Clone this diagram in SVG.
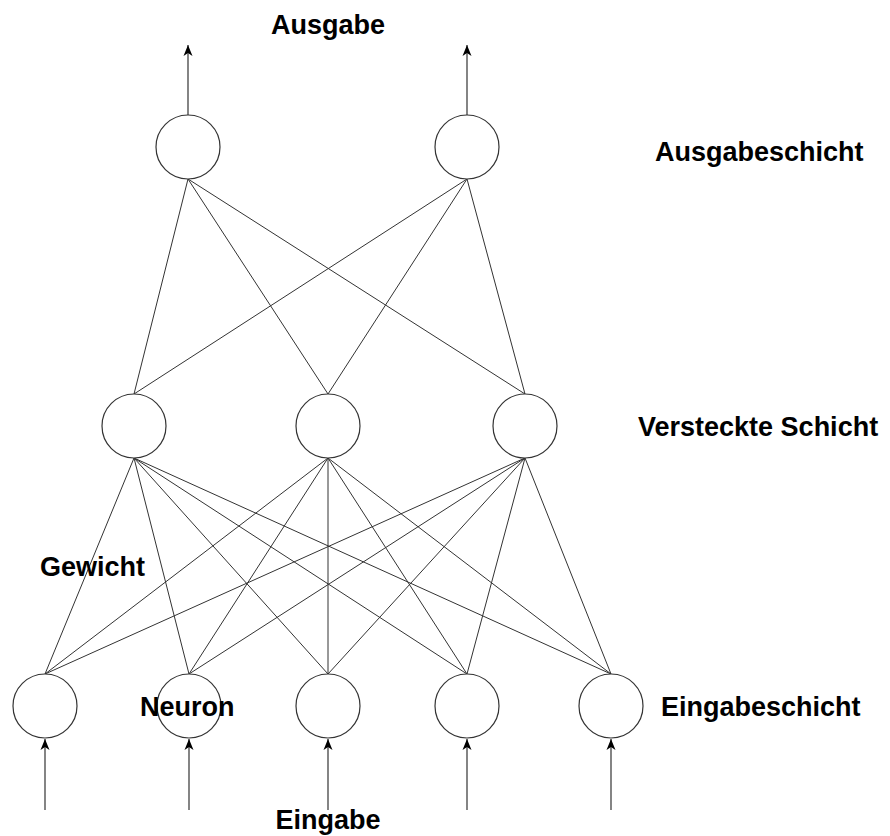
<svg xmlns="http://www.w3.org/2000/svg" width="890" height="836" viewBox="0 0 890 836">
<defs>
<marker id="arr" markerWidth="12" markerHeight="10" refX="11" refY="5" orient="auto" markerUnits="userSpaceOnUse">
<path d="M0,0.5 L11,5 L0,9.5 L3,5 Z" fill="#000"/>
</marker>
<style>
.n{fill:#fff;stroke:#333;stroke-width:1.2}
.e{stroke:#333;stroke-width:1;fill:none}
.a{stroke:#333;stroke-width:1.2;fill:none;marker-end:url(#arr)}
.t{font-family:"Liberation Sans",Arial,sans-serif;font-weight:bold;font-size:27px;fill:#000}
</style>
</defs>
<rect width="890" height="836" fill="#fff"/>
<g id="connectors">
<line class="e" x1="188" y1="179" x2="134" y2="394"/>
<line class="e" x1="188" y1="179" x2="328" y2="394"/>
<line class="e" x1="188" y1="179" x2="525" y2="394"/>
<line class="e" x1="467" y1="179" x2="134" y2="394"/>
<line class="e" x1="467" y1="179" x2="328" y2="394"/>
<line class="e" x1="467" y1="179" x2="525" y2="394"/>
<line class="e" x1="134" y1="458" x2="45" y2="674"/>
<line class="e" x1="134" y1="458" x2="189" y2="674"/>
<line class="e" x1="134" y1="458" x2="328" y2="674"/>
<line class="e" x1="134" y1="458" x2="467" y2="674"/>
<line class="e" x1="134" y1="458" x2="611" y2="674"/>
<line class="e" x1="328" y1="458" x2="45" y2="674"/>
<line class="e" x1="328" y1="458" x2="189" y2="674"/>
<line class="e" x1="328" y1="458" x2="328" y2="674"/>
<line class="e" x1="328" y1="458" x2="467" y2="674"/>
<line class="e" x1="328" y1="458" x2="611" y2="674"/>
<line class="e" x1="525" y1="458" x2="45" y2="674"/>
<line class="e" x1="525" y1="458" x2="189" y2="674"/>
<line class="e" x1="525" y1="458" x2="328" y2="674"/>
<line class="e" x1="525" y1="458" x2="467" y2="674"/>
<line class="e" x1="525" y1="458" x2="611" y2="674"/>
<line class="a" x1="188" y1="115" x2="188" y2="45"/>
<line class="a" x1="467" y1="115" x2="467" y2="45"/>
<line class="a" x1="45" y1="810" x2="45" y2="739"/>
<line class="a" x1="189" y1="810" x2="189" y2="739"/>
<line class="a" x1="328" y1="810" x2="328" y2="739"/>
<line class="a" x1="467" y1="810" x2="467" y2="739"/>
<line class="a" x1="611" y1="810" x2="611" y2="739"/>
</g>
<g id="out1"><circle class="n" cx="188" cy="147" r="32"/></g>
<g id="out2"><circle class="n" cx="467" cy="147" r="32"/></g>
<g id="hid1"><circle class="n" cx="134" cy="426" r="32"/></g>
<g id="hid2"><circle class="n" cx="328" cy="426" r="32"/></g>
<g id="hid3"><circle class="n" cx="525" cy="426" r="32"/></g>
<g id="in1"><circle class="n" cx="45" cy="706" r="32"/></g>
<g id="in2"><circle class="n" cx="189" cy="706" r="32"/></g>
<g id="in3"><circle class="n" cx="328" cy="706" r="32"/></g>
<g id="in4"><circle class="n" cx="467" cy="706" r="32"/></g>
<g id="in5"><circle class="n" cx="611" cy="706" r="32"/></g>
<g id="labels">
<text class="t" x="328" y="34" text-anchor="middle">Ausgabe</text>
<text class="t" x="655" y="161">Ausgabeschicht</text>
<text class="t" x="638" y="436">Versteckte Schicht</text>
<text class="t" x="40" y="576">Gewicht</text>
<text class="t" x="140" y="716">Neuron</text>
<text class="t" x="661" y="716">Eingabeschicht</text>
<text class="t" x="328" y="829" text-anchor="middle">Eingabe</text>
</g>
</svg>
